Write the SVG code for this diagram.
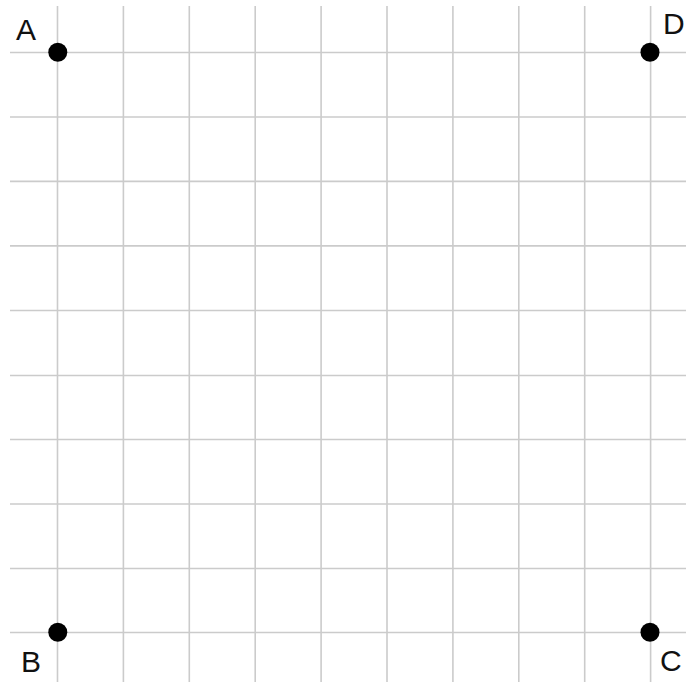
<svg xmlns="http://www.w3.org/2000/svg" width="686" height="682" viewBox="0 0 686 682">
<style>
.g{stroke:#cbcbcb;stroke-width:1.6;fill:none}
.pt{fill:#000}
.lb{font-family:"Liberation Sans",Arial,sans-serif;font-size:30px;fill:#111}
</style>
<rect width="686" height="682" fill="#fff"/>
<g id="grid" class="g">
<line x1="57.5" y1="6" x2="57.5" y2="682"/>
<line x1="123.4" y1="6" x2="123.4" y2="682"/>
<line x1="189.3" y1="6" x2="189.3" y2="682"/>
<line x1="255.2" y1="6" x2="255.2" y2="682"/>
<line x1="321.1" y1="6" x2="321.1" y2="682"/>
<line x1="387" y1="6" x2="387" y2="682"/>
<line x1="452.9" y1="6" x2="452.9" y2="682"/>
<line x1="518.8" y1="6" x2="518.8" y2="682"/>
<line x1="584.7" y1="6" x2="584.7" y2="682"/>
<line x1="650.6" y1="6" x2="650.6" y2="682"/>
<line x1="10" y1="52.5" x2="686" y2="52.5"/>
<line x1="10" y1="117" x2="686" y2="117"/>
<line x1="10" y1="181.4" x2="686" y2="181.4"/>
<line x1="10" y1="245.9" x2="686" y2="245.9"/>
<line x1="10" y1="310.5" x2="686" y2="310.5"/>
<line x1="10" y1="375.5" x2="686" y2="375.5"/>
<line x1="10" y1="439.5" x2="686" y2="439.5"/>
<line x1="10" y1="504" x2="686" y2="504"/>
<line x1="10" y1="568.5" x2="686" y2="568.5"/>
<line x1="10" y1="632.5" x2="686" y2="632.5"/>
</g>
<g id="A"><circle class="pt" cx="57.8" cy="52.3" r="9.5"/><text class="lb" x="16" y="40">A</text></g>
<g id="D"><circle class="pt" cx="650" cy="52.3" r="9.5"/><text class="lb" x="663" y="34">D</text></g>
<g id="B"><circle class="pt" cx="57.8" cy="632.3" r="9.5"/><text class="lb" x="21" y="672">B</text></g>
<g id="C"><circle class="pt" cx="650" cy="632.3" r="9.5"/><text class="lb" x="660" y="671">C</text></g>
</svg>
